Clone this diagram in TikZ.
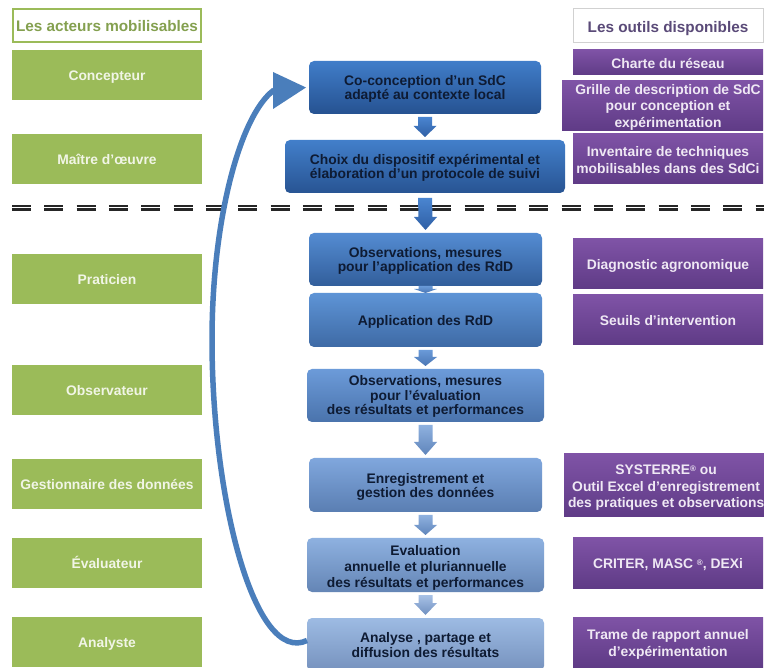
\documentclass[tikz,border=0pt]{standalone}
\usepackage{fontspec}
\setmainfont{Liberation Sans}
\usetikzlibrary{calc}
\definecolor{grn}{HTML}{9BBB59}
\definecolor{grntxt}{HTML}{F1F5E6}
\definecolor{grnhead}{HTML}{84A04F}
\definecolor{purtxt}{HTML}{EFE8F4}
\definecolor{purtop}{HTML}{7F53A6}
\definecolor{purbot}{HTML}{5F3B86}
\definecolor{purhead}{HTML}{5A4A78}
\definecolor{navy}{HTML}{0E1B33}
\definecolor{curve}{HTML}{4A7EBB}
\definecolor{a1t}{HTML}{4A85D0}\definecolor{a1b}{HTML}{2F5FA5}
\definecolor{a3t}{HTML}{6A9AD8}\definecolor{a3b}{HTML}{4A76B4}
\definecolor{a5t}{HTML}{8FB1DF}\definecolor{a5b}{HTML}{5F85BB}
\definecolor{a7t}{HTML}{A8C2E6}\definecolor{a7b}{HTML}{7090C0}
\newcommand{\myst}{\rule[-3.5pt]{0pt}{13.5pt}}
\newcommand{\topst}[1]{\rule{0pt}{#1}}
\newcommand{\reg}{\raisebox{3.5pt}{\fontsize{8}{8}\selectfont ®}}
\newcommand{\blockarrow}[6]{% from, to, top colour, bottom colour, gap at the start, head length
  \path[top color=#3,bottom color=#4]
    ($(#1.south)+(-7,#5)$) -- ($(#1.south)+(7,#5)$) -- ($(#2.north)+(7,-#6-3)$) -- ($(#2.north)+(11.5,-#6-3)$)
    -- ($(#2.north)+(0,-3)$) -- ($(#2.north)+(-11.5,-#6-3)$) -- ($(#2.north)+(-7,-#6-3)$) -- cycle;}
\tikzset{
  x=1pt,y=-1pt,
  base/.style={anchor=north west,inner sep=0pt,outer sep=0pt,align=center,
    execute at end node=\myst},
  actor/.style={base,fill=grn,text=grntxt,minimum width=190pt,minimum height=50pt,
    font=\fontsize{13.85}{16.6}\selectfont\bfseries},
  tool/.style={base,top color=purtop,bottom color=purbot,text=purtxt,minimum width=190pt,minimum height=50pt,
    font=\fontsize{13.85}{16.6}\selectfont\bfseries},
  stage/.style={base,rounded corners=5pt,text=navy,minimum width=232pt,minimum height=53pt,
    font=\fontsize{13.85}{14.4}\selectfont\bfseries},
  header/.style={base,font=\fontsize{15.3}{17}\selectfont\bfseries},
}
\begin{document}
\begin{tikzpicture}
\useasboundingbox (0,0) rectangle (764,668);
\clip (0,0) rectangle (764,668);
\fill[white] (0,0) rectangle (764,668);

% headers
\node[header,draw=grn,line width=2pt,text=grnhead,minimum width=188pt,minimum height=33pt] (hA) at (13,9) {\topst{16pt}Les acteurs mobilisables};
\node[header,draw=black!18,line width=0.8pt,text=purhead,minimum width=190pt,minimum height=34pt] (hO) at (573,8.5) {\topst{18.5pt}Les outils disponibles};

% actors
\node[actor] (a1) at (12,50) {\topst{15pt}Concepteur};
\node[actor] (a2) at (12,134) {\topst{15pt}Maître d’œuvre};
\node[actor] (a3) at (12,254) {\topst{15pt}Praticien};
\node[actor] (a4) at (12,365) {\topst{15pt}Observateur};
\node[actor] (a5) at (12,459) {\topst{15pt}Gestionnaire des données};
\node[actor] (a6) at (12,538) {\topst{15pt}Évaluateur};
\node[actor] (a7) at (12,617) {\topst{15pt}Analyste};

% separator
\draw[black!85,line width=2.2pt,dash pattern=on 19pt off 13.33pt] (12,206.2) -- (764,206.2);
\draw[black!85,line width=2.2pt,dash pattern=on 19pt off 13.33pt] (12,209.6) -- (764,209.6);

% tools
\node[tool,minimum height=25pt] (o1) at (573,50) {\topst{15.5pt}Charte du réseau};
\node[tool,minimum width=201pt,minimum height=50pt] (o2) at (562,81) {\topst{13pt}\hspace*{11pt}Grille de description de SdC\\\hspace*{11pt}pour conception et\\\hspace*{11pt}expérimentation};
\node[tool] (o3) at (573,134) {\topst{16pt}Inventaire de techniques\\mobilisables dans des SdCi};
\node[tool] (o4) at (573,239) {\topst{15pt}Diagnostic agronomique};
\node[tool] (o5) at (573,295) {\topst{15pt}Seuils d’intervention};
\node[tool,minimum width=200pt,minimum height=63pt] (o6) at (564,454) {\topst{15pt}\hspace*{4pt}SYSTERRE\reg{} ou\\\hspace*{4pt}Outil Excel d’enregistrement\\\hspace*{4pt}des pratiques et observations};
\node[tool] (o7) at (573,538) {\topst{15pt}CRITER, MASC \reg, DEXi};
\node[tool] (o8) at (573,617) {\topst{15.5pt}Trame de rapport annuel\\d’expérimentation};

% stages
\node[stage,top color={rgb,255:red,64;green,125;blue,201},bottom color={rgb,255:red,38;green,82;blue,145}] (s1) at (309,61) {\topst{13pt}Co-conception d’un SdC\\adapté au contexte local};
\node[stage,minimum width=280pt,top color={rgb,255:red,66;green,127;blue,202},bottom color={rgb,255:red,40;green,84;blue,147}] (s2) at (285,140) {\topst{13pt}Choix du dispositif expérimental et\\élaboration d’un protocole de suivi};
\node[stage,minimum width=233pt,top color={rgb,255:red,84;green,140;blue,210},bottom color={rgb,255:red,50;green,94;blue,155}] (s3) at (309,233) {\topst{13pt}Observations, mesures\\pour l’application des RdD};
\node[stage,minimum width=233pt,minimum height=54pt,top color={rgb,255:red,94;green,148;blue,214},bottom color={rgb,255:red,62;green,106;blue,165}] (s4) at (309,293) {\topst{14pt}Application des RdD};
\node[stage,minimum width=237pt,top color={rgb,255:red,108;green,155;blue,217},bottom color={rgb,255:red,74;green,115;blue,172}] (s5) at (307,369) {\topst{13pt}Observations, mesures\\pour l’évaluation\\des résultats et performances};
\node[stage,minimum width=233pt,minimum height=54pt,top color={rgb,255:red,128;green,167;blue,221},bottom color={rgb,255:red,90;green,126;blue,178}] (s6) at (309,458) {\topst{14.5pt}Enregistrement et\\gestion des données};
\node[stage,minimum width=237pt,minimum height=54pt,font=\fontsize{13.85}{15.8}\selectfont\bfseries,top color={rgb,255:red,142;green,177;blue,224},bottom color={rgb,255:red,100;green,133;blue,181}] (s7) at (307,538) {\topst{16pt}Evaluation\\annuelle et pluriannuelle\\des résultats et performances};
\node[stage,minimum width=237pt,minimum height=53pt,font=\fontsize{13.85}{15.8}\selectfont\bfseries,top color={rgb,255:red,157;green,187;blue,227},bottom color={rgb,255:red,118;green,146;blue,190}] (s8) at (307,618) {\topst{14.5pt}Analyse , partage et\\diffusion des résultats};

% block arrows between the stages
\blockarrow{s1}{s2}{a1t}{a1b}{3}{11}
\blockarrow{s2}{s3}{a1t}{a1b}{5}{13}
\path[top color=a3t,bottom color=a3b] ($(s3.south)+(-7,0)$) -- ($(s3.south)+(7,0)$) -- ($(s3.south)+(7,3)$) -- ($(s3.south)+(11.5,3)$) -- (s4.north) -- ($(s3.south)+(-11.5,3)$) -- ($(s3.south)+(-7,3)$) -- cycle;
\blockarrow{s4}{s5}{a3t}{a3b}{3}{9}
\blockarrow{s5}{s6}{a5t}{a5b}{3}{13}
\blockarrow{s6}{s7}{a5t}{a5b}{3}{10}
\blockarrow{s7}{s8}{a7t}{a7b}{3}{12}

% return arrow
\coordinate (bend) at (212,340);
\coordinate (tail) at (274,90);
\draw[curve,line width=5.5pt] ($(s8.west)+(0,-4)$) .. controls (255,665) and (212,500) .. (bend)
  .. controls (212,220) and (240,115) .. (tail);
\fill[curve] ($(s1.west)+(-3,0)$) -- (273,72) -- (273,109) -- cycle;
\end{tikzpicture}
\end{document}
